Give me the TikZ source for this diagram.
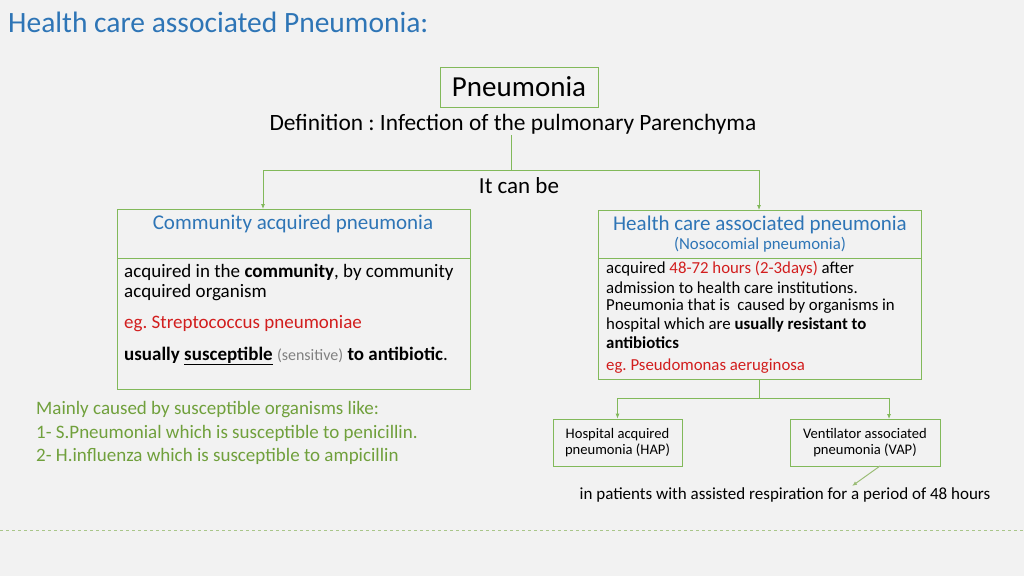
\documentclass[tikz,border=0pt]{standalone}
\usepackage{fontspec}
\setmainfont{Carlito}
\usetikzlibrary{positioning,arrows.meta}
\definecolor{bg}{RGB}{242,242,242}
\definecolor{titleblue}{RGB}{46,117,182}
\definecolor{boxgreen}{RGB}{130,185,90}
\definecolor{txtgreen}{RGB}{112,160,60}
\definecolor{eggred}{RGB}{210,30,30}
\tikzset{x=1pt, y=-1pt, >={Latex[length=5pt,width=4pt]},
  every node/.style={inner sep=0pt},
  line/.style={draw=boxgreen, line width=0.8pt},
  box/.style={draw=boxgreen, line width=0.8pt, fill=none},
  body/.style={anchor=west, font=\fontsize{19}{21}\selectfont},
  small/.style={anchor=west, font=\fontsize{16.8}{18}\selectfont}}
\frenchspacing
\begin{document}
\begin{tikzpicture}
    \fill[bg] (0,0) rectangle (1024,576);
    \useasboundingbox (0,0) rectangle (1024,576);
    \node [anchor=west, text=titleblue, font=\fontsize{29.5}{29.5}\selectfont] (title) at (8,22) {Health care associated Pneumonia:};

    % top
    \node [box, minimum width=158pt, minimum height=40pt, font=\fontsize{29}{29}\selectfont] (pneu) at (519,87) {Pneumonia};
    \node [font=\fontsize{23.4}{23.4}\selectfont] (defn) at (513,124) {Definition : Infection of the pulmonary Parenchyma};
    \node [font=\fontsize{23}{23}\selectfont] (canbe) at (519,186) {It can be};
    \coordinate (split) at (511,170);

    % left box
    \draw [box] (117,209) rectangle (470,389);
    \draw [line] (117,258) -- (470,258);
    \node [text=titleblue, font=\fontsize{21}{21}\selectfont] (cap) at (293,224) {Community acquired pneumonia};
    \node [body] (cap1) at (124,272) {acquired in the \textbf{community}, by community};
    \node [body] (cap2) at (124,293) {acquired organism};
    \node [body, text=eggred] (cap3) at (124,324) {eg. Streptococcus pneumoniae};
    \node [body] (cap4) at (124,356) {\textbf{usually \underline{susceptible}} {\fontsize{16}{16}\selectfont\color{gray}(sensitive)} \textbf{to antibiotic}.};

    % right box
    \draw [box] (598,210) rectangle (921,379);
    \draw [line] (598,258) -- (921,258);
    \node [text=titleblue, font=\fontsize{21}{21}\selectfont] (hcap) at (760,225) {Health care associated pneumonia};
    \node [text=titleblue, font=\fontsize{16.8}{16.8}\selectfont] (noso) at (760,245) {(Nosocomial pneumonia)};
    \node [small] (h1) at (606,269) {acquired \textcolor{eggred}{48-72 hours (2-3days)} after};
    \node [small] (h2) at (606,287.5) {admission to health care institutions.};
    \node [small] (h3) at (606,306) {Pneumonia that is\ \ caused by organisms in};
    \node [small] (h4) at (606,324.5) {hospital which are \textbf{usually resistant to}};
    \node [small] (h5) at (606,343) {\textbf{antibiotics}};
    \node [small, text=eggred] (h6) at (606,366) {eg. Pseudomonas aeruginosa};

    % sub boxes
    \node [box, minimum width=129pt, minimum height=47pt, align=center, font=\fontsize{14.6}{16}\selectfont] (hap) at (617.5,442.5) {Hospital acquired\\pneumonia (HAP)};
    \node [box, minimum width=150pt, minimum height=47pt, align=center, font=\fontsize{14.6}{16}\selectfont] (vap) at (865,442.5) {Ventilator associated\\pneumonia (VAP)};
    \node [font=\fontsize{17}{17}\selectfont] (resp) at (785,495) {in patients with assisted respiration for a period of 48 hours};

    % left notes
    \node [body, text=txtgreen] (n1) at (36,410) {Mainly caused by susceptible organisms like:};
    \node [body, text=txtgreen] (n2) at (36,433) {1- S.Pneumonial which is susceptible to penicillin.};
    \node [body, text=txtgreen] (n3) at (36,456) {2- H.influenza which is susceptible to ampicillin};

    % connectors
    \draw [line] (511,135) -- (split);
    \draw [line, ->] (split) -| (263,209);
    \draw [line, ->] (split) -| (759,210);
    \draw [line] (759,379) -- (759,398) coordinate (split2);
    \draw [line, ->] (split2) -| (hap.north);
    \draw [line, ->] (split2) -| (889,419);
    \draw [draw=txtgreen!70, line width=1pt, ->] (880,466) -- (852,486);

    \draw [draw=txtgreen!60, dashed, line width=0.8pt] (0,530) -- (1024,530);
\end{tikzpicture}
\end{document}
